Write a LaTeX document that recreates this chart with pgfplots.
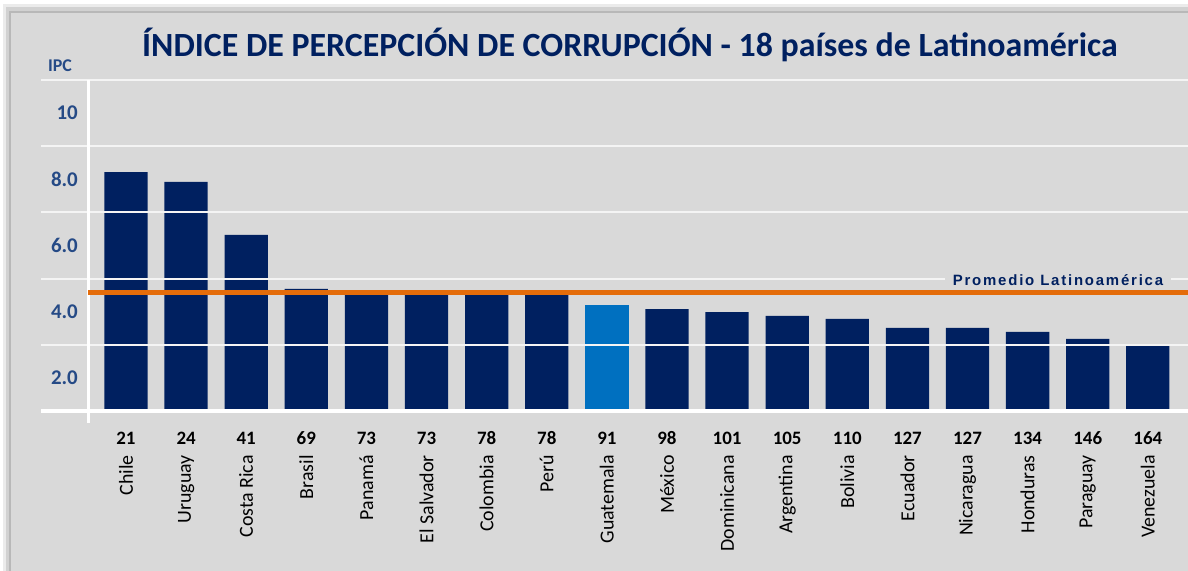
\documentclass[border=0pt]{standalone}
\usepackage{pgfplots}
\pgfplotsset{compat=1.18}
\usepackage{fontspec}
\setmainfont{Carlito}
\newfontfamily\arialb[LetterSpace=12]{Liberation Sans}
\definecolor{navy}{HTML}{002060}
\definecolor{lblue}{HTML}{0070C0}
\definecolor{bg}{HTML}{D9D9D9}
\definecolor{ylab}{HTML}{254A86}
\definecolor{orng}{HTML}{E46C0A}
\definecolor{gridc}{HTML}{F4F4F4}
\begin{document}
\begin{tikzpicture}[x=1bp,y=1bp]
\useasboundingbox (0,0) rectangle (1188,571);
\fill[white] (0,0) rectangle (1188,571);
\fill[black!8] (3,0) rectangle (1188,567);
\fill[black!18] (6,0) rectangle (1188,564);
\fill[black!28] (9,0) rectangle (1188,560);
\fill[bg] (11,0) rectangle (1188,558);
\begin{axis}[at={(88bp,160bp)}, anchor=south west, scale only axis,
  width=1100bp, height=331bp,
  xmin=-0.632, xmax=17.668, ymin=1, ymax=11,
  ybar, bar width=0.72, bar shift=0pt,
  axis line style={draw=none}, major tick length=0pt,
  ytick={2,4,6,8,10}, yticklabels={2.0,4.0,6.0,8.0,10},
  yticklabel style={font=\fontsize{21}{22}\selectfont\bfseries, text=ylab, inner sep=0pt, xshift=-10bp},
  xtick={0,...,17},
  xticklabels={21,24,41,69,73,73,78,78,91,98,101,105,110,127,127,134,146,164},
  xticklabel style={font=\fontsize{19}{20}\selectfont\bfseries, text=black, inner sep=0pt, anchor=center, yshift=-27bp},
  extra x ticks={0,...,17},
  extra x tick labels={Chile,Uruguay,Costa Rica,Brasil,Panamá,El Salvador,Colombia,Perú,Guatemala,México,Dominicana,Argentina,Bolivia,Ecuador,Nicaragua,Honduras,Paraguay,Venezuela},
  extra x tick style={xticklabel style={font=\fontsize{20}{21}\selectfont, text=black, inner sep=0pt, yshift=-17bp, rotate=90, anchor=east}},
]
\addplot[fill=navy, draw=none] coordinates {
(0,8.22) (1,7.92) (2,6.32) (3,4.69) (4,4.5) (5,4.5) (6,4.5) (7,4.5)
(9,4.08) (10,3.99) (11,3.87) (12,3.78) (13,3.51) (14,3.51) (15,3.39) (16,3.18) (17,2.99)};
\addplot[fill=lblue, draw=none] coordinates {(8,4.2)};
\end{axis}
% gridlines over bars
\foreach \yy in {226.2,292.4,358.6,424.8,491} {\draw[gridc, line width=2bp] (41,\yy) -- (1188,\yy);}
\draw[white, line width=4bp] (41,160) -- (1188,160);
\draw[white, line width=3bp] (88,491) -- (88,148);
\begin{axis}[at={(88bp,160bp)}, anchor=south west, scale only axis,
  width=1100bp, height=331bp,
  xmin=-0.632, xmax=17.668, ymin=1, ymax=11, hide axis]
\addplot[orng, line width=5bp, no marks] coordinates {(-0.65,4.565) (17.668,4.565)};
\end{axis}
\node[fill=bg, inner xsep=8bp, inner ysep=2bp, text=navy, font=\fontsize{15}{16}\selectfont\arialb\bfseries] at (1058,291) {Promedio Latinoamérica};
\node[text=navy, font=\fontsize{34}{38}\selectfont\bfseries] at (630,526) {ÍNDICE DE PERCEPCIÓN DE CORRUPCIÓN - 18 países de Latinoamérica};
\node[text=ylab, font=\fontsize{18}{20}\selectfont\bfseries] at (60,505) {IPC};
\end{tikzpicture}
\end{document}
